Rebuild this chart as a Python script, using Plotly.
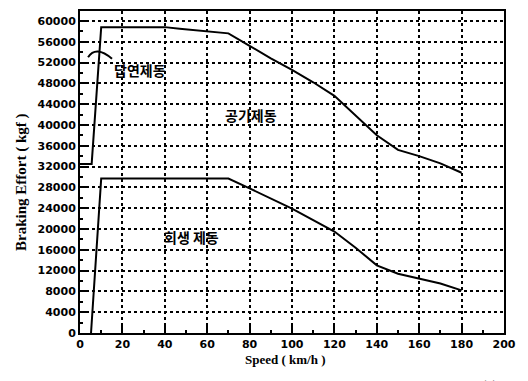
import plotly.graph_objects as go

# Air braking (공기제동) envelope
air_speed = [0, 5.5, 10, 20, 30, 40, 47, 60, 70, 80, 90, 100, 110, 120, 130, 140, 150, 160, 170, 180]
air_effort = [32500, 32500, 58800, 58800, 58800, 58800, 58500, 58000, 57600, 55200, 52800, 50600, 48200, 45600, 41800, 38000, 35200, 34000, 32600, 30800]

# Regenerative braking (회생 제동) envelope
regen_speed = [5.2, 10, 20, 30, 40, 50, 60, 70, 80, 90, 100, 110, 120, 130, 140, 150, 160, 170, 180]
regen_effort = [0, 29700, 29700, 29700, 29700, 29700, 29700, 29700, 27800, 25800, 23900, 21700, 19500, 16400, 13000, 11400, 10400, 9500, 8200]

fig = go.Figure()
fig.add_trace(go.Scatter(x=air_speed, y=air_effort, mode="lines",
                         line=dict(color="black", width=2), showlegend=False))
fig.add_trace(go.Scatter(x=regen_speed, y=regen_effort, mode="lines",
                         line=dict(color="black", width=2), showlegend=False))

tickfont = dict(family="DejaVu Sans", size=11, color="black", weight="bold")
fig.update_layout(
    xaxis=dict(range=[0, 200], tickmode="linear", tick0=0, dtick=20, ticks="inside", ticklen=7,
               tickwidth=1.5, tickcolor="black", showline=True, linecolor="black", linewidth=2,
               mirror=True, zeroline=False, tickfont=tickfont,
               showgrid=True, gridcolor="rgb(0,0,0)", gridwidth=1.5, griddash="dot",
               minor=dict(ticks="inside", ticklen=3, dtick=10, tickcolor="black", showgrid=False)),
    yaxis=dict(range=[0, 61900], tickmode="linear", tick0=0, dtick=4000, tickformat="d",
               ticks="inside", ticklen=7, tickwidth=1.5, tickcolor="black", showline=True,
               linecolor="black", linewidth=2, mirror=True, zeroline=False, tickfont=tickfont,
               showgrid=True, gridcolor="rgb(0,0,0)", gridwidth=1.5, griddash="dot",
               minor=dict(ticks="inside", ticklen=3, dtick=2000, tickcolor="black", showgrid=False)),
)

kfont = dict(family="Noto Sans CJK KR", size=14, color="black", weight="bold")
fig.add_annotation(x=28.3, y=50500, text="답연제동", showarrow=False, font=kfont)
fig.add_annotation(x=80.5, y=41850, text="공기제동", showarrow=False, font=kfont)
fig.add_annotation(x=52.8, y=18400, text="회생 제동", showarrow=False, font=kfont)

fig.add_shape(type="path", xref="x", yref="y",
              path="M 3.8,53000 Q 7.55,55350 15.1,52700",
              line=dict(color="black", width=2))

sfont = dict(family="Liberation Serif", size=13, color="black", weight="bold")
fig.add_annotation(xref="paper", yref="paper", x=(285 - 80) / 424, y=(333 - 360) / 324,
                   xanchor="center", yanchor="middle",
                   text="Speed ( km/h )", showarrow=False, font=sfont)
fig.add_annotation(xref="paper", yref="paper", x=(22 - 80) / 424, y=(333 - 181) / 324,
                   xanchor="center", yanchor="middle",
                   text="Braking Effort ( kgf )", showarrow=False, textangle=-90,
                   font=dict(family="Liberation Serif", size=15, color="black", weight="bold"))
fig.add_annotation(xref="paper", yref="paper", x=(489 - 80) / 424, y=(333 - 375) / 324,
                   xanchor="center", yanchor="top", text="(a)", showarrow=False, font=sfont)

fig.update_layout(width=528, height=381, margin=dict(l=80, r=24, t=9, b=48),
                  plot_bgcolor="white", paper_bgcolor="white")

fig.write_html("out.html")
